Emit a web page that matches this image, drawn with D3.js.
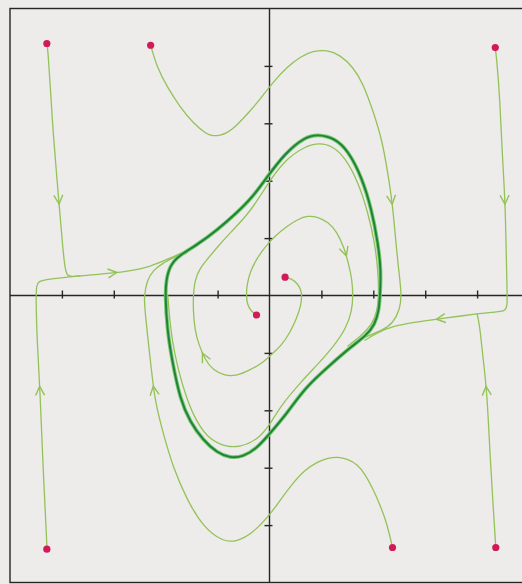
<!DOCTYPE html>
<html>
<head>
<meta charset="utf-8">
<script src="https://cdn.jsdelivr.net/npm/d3@7"></script>
<style>
  html, body { margin: 0; padding: 0; background: #edecea; overflow: hidden; }
  svg { display: block; }
</style>
</head>
<body>
<svg id="chart" width="522" height="584"></svg>
<script>
// Phase plane: window and tick positions
const xDomain = [-5, 5];
const yDomain = [-5, 5];
const xTicks = [-4, -3, -2, -1, 1, 2, 3, 4];
const yTicks = [-4, -3, -2, -1, 1, 2, 3, 4];

// Initial states of the plotted trajectories
const startPoints = [
  [-4.29, 4.39], [-2.29, 4.36], [4.35, 4.32], [0.30, 0.32],
  [-0.25, -0.34], [-4.29, -4.42], [2.37, -4.39], [4.36, -4.39]
];

// Attracting closed orbit
const limitCycle = [
  [2.13, 0.01], [2.11, -0.25], [2.03, -0.51], [1.86, -0.70], [1.55, -0.91],
  [1.17, -1.21], [0.68, -1.61], [0.34, -2.05], [0.01, -2.40], [-0.24, -2.66],
  [-0.51, -2.81], [-0.76, -2.83], [-1.01, -2.74], [-1.28, -2.52], [-1.53, -2.20],
  [-1.72, -1.82], [-1.88, -1.12], [-1.97, -0.60], [-2.01, 0.01], [-1.99, 0.27],
  [-1.92, 0.53], [-1.72, 0.71], [-1.40, 0.88], [-1.01, 1.14], [-0.63, 1.44],
  [-0.32, 1.72], [-0.05, 2.06], [0.30, 2.48], [0.68, 2.76], [0.93, 2.81],
  [1.26, 2.74], [1.51, 2.53], [1.78, 2.06], [1.97, 1.49], [2.09, 0.91], [2.15, 0.44]
];

// Trajectories approaching the orbit from outside
const trajTopLeft = [
  [-4.29, 4.39], [-4.27, 4.28], [-4.22, 3.60], [-4.17, 2.83], [-4.06, 1.66],
  [-3.98, 0.79], [-3.94, 0.48], [-3.90, 0.34], [-3.81, 0.33], [-3.65, 0.34],
  [-3.02, 0.39], [-2.69, 0.43], [-2.30, 0.50], [-1.92, 0.65], [-1.67, 0.75],
  [-1.40, 0.89]
];
const trajBottomLeft = [
  [-4.29, -4.42], [-4.29, -4.31], [-4.36, -3.09], [-4.42, -1.65], [-4.48, -0.78],
  [-4.50, -0.03], [-4.49, 0.17], [-4.45, 0.25], [-4.30, 0.28], [-4.10, 0.30],
  [-3.90, 0.32], [-3.65, 0.34]
];
const trajTop = [
  [-2.29, 4.36], [-2.17, 3.98], [-1.97, 3.63], [-1.72, 3.28], [-1.47, 3.00],
  [-1.20, 2.80], [-1.09, 2.78], [-0.95, 2.79], [-0.82, 2.83], [-0.66, 2.94],
  [-0.51, 3.08], [-0.38, 3.21], [-0.18, 3.42], [0.07, 3.72], [0.34, 3.98],
  [0.59, 4.16], [0.84, 4.26], [1.11, 4.28], [1.36, 4.19], [1.61, 3.98],
  [1.80, 3.70], [1.99, 3.23], [2.17, 2.71], [2.28, 2.13], [2.36, 1.66],
  [2.42, 1.09], [2.48, 0.50], [2.55, 0.01], [2.51, -0.25], [2.38, -0.48],
  [2.19, -0.60], [1.86, -0.72]
];
const trajTopRight = [
  [4.35, 4.32], [4.38, 4.10], [4.44, 3.41], [4.48, 2.53], [4.54, 1.66],
  [4.56, 0.79], [4.58, 0.01], [4.58, -0.17], [4.55, -0.26], [4.45, -0.28],
  [4.31, -0.29], [4.00, -0.32], [3.67, -0.36], [3.23, -0.41], [2.84, -0.46],
  [2.38, -0.53], [2.07, -0.65], [1.84, -0.78]
];
const trajBottomRight = [
  [4.36, -4.39], [4.31, -3.68], [4.25, -2.81], [4.19, -1.65], [4.11, -1.07],
  [4.06, -0.60], [4.02, -0.40], [4.00, -0.32]
];
const trajBottom = [
  [2.37, -4.39], [2.26, -3.96], [2.13, -3.65], [1.99, -3.36], [1.84, -3.11],
  [1.69, -2.94], [1.51, -2.85], [1.32, -2.81], [1.13, -2.83], [0.92, -2.90],
  [0.68, -3.04], [0.45, -3.27], [0.24, -3.52], [0.01, -3.82], [-0.32, -4.14],
  [-0.63, -4.29], [-0.90, -4.29], [-1.28, -4.03], [-1.59, -3.56], [-1.86, -2.99],
  [-2.05, -2.40], [-2.21, -1.83], [-2.28, -1.25], [-2.34, -0.78], [-2.40, -0.25],
  [-2.42, -0.03], [-2.36, 0.27], [-2.24, 0.44], [-2.05, 0.57], [-1.82, 0.67],
  [-1.63, 0.76]
];

// Trajectories spiralling out from near the origin
const spiralA = [
  [0.30, 0.32], [0.43, 0.29], [0.55, 0.20], [0.63, 0.06], [0.61, -0.17],
  [0.51, -0.43], [0.39, -0.65], [0.24, -0.86], [0.07, -1.00], [-0.14, -1.18],
  [-0.38, -1.30], [-0.63, -1.40], [-0.86, -1.40], [-1.09, -1.30], [-1.24, -1.12],
  [-1.36, -0.86], [-1.44, -0.60], [-1.47, -0.25], [-1.47, -0.03], [-1.44, 0.27],
  [-1.34, 0.48], [-1.18, 0.65], [-1.01, 0.84], [-0.76, 1.09], [-0.43, 1.40],
  [-0.20, 1.70], [0.02, 2.02], [0.30, 2.36], [0.68, 2.60], [0.97, 2.66],
  [1.22, 2.60], [1.45, 2.41], [1.71, 1.98], [1.90, 1.44], [2.03, 0.91],
  [2.09, 0.44], [2.11, 0.01], [2.07, -0.30], [1.97, -0.51], [1.78, -0.69],
  [1.51, -0.88]
];
const spiralB = [
  [-0.25, -0.34], [-0.36, -0.27], [-0.43, -0.15], [-0.45, 0.01], [-0.43, 0.22],
  [-0.36, 0.44], [-0.24, 0.65], [-0.09, 0.84], [0.11, 1.04], [0.34, 1.21],
  [0.55, 1.33], [0.74, 1.39], [0.93, 1.37], [1.13, 1.28], [1.30, 1.11],
  [1.44, 0.83], [1.53, 0.53], [1.59, 0.27], [1.61, 0.01], [1.59, -0.27],
  [1.47, -0.58], [1.24, -0.88], [0.97, -1.16], [0.59, -1.52], [0.20, -1.94],
  [0.01, -2.25], [-0.24, -2.52], [-0.57, -2.64], [-0.82, -2.64], [-1.15, -2.52],
  [-1.40, -2.21], [-1.59, -1.82], [-1.76, -1.30], [-1.88, -0.78], [-1.94, -0.25],
  [-1.96, 0.01]
];

// Direction arrows: which trajectory, and where along it
const arrowMarks = [
  { on: "trajTopLeft", at: [-4.06, 1.66] },
  { on: "trajTopLeft", at: [-3.02, 0.39] },
  { on: "trajBottomLeft", at: [-4.42, -1.65] },
  { on: "trajTop", at: [2.36, 1.66] },
  { on: "trajTopRight", at: [4.54, 1.66] },
  { on: "trajTopRight", at: [3.29, -0.39] },
  { on: "trajBottomRight", at: [4.19, -1.65] },
  { on: "trajBottom", at: [-2.23, -1.65] },
  { on: "spiralA", at: [-1.20, -1.04] },
  { on: "spiralB", at: [1.45, 0.75] }
];

const trajectories = [
  { id: "trajTopLeft", pts: trajTopLeft },
  { id: "trajBottomLeft", pts: trajBottomLeft },
  { id: "trajTop", pts: trajTop },
  { id: "trajTopRight", pts: trajTopRight },
  { id: "trajBottomRight", pts: trajBottomRight },
  { id: "trajBottom", pts: trajBottom },
  { id: "spiralA", pts: spiralA },
  { id: "spiralB", pts: spiralB }
];

const W = 522, H = 584;
const svg = d3.select("#chart");

const x = d3.scaleLinear().domain(xDomain).range([10, 529]);
const y = d3.scaleLinear().domain(yDomain).range([582.5, 8.5]);

const axisColor = "#262626";
const lightGreen = "#93c258";
const darkGreen = "#1f8236";

svg.append("rect").attr("width", W).attr("height", H).attr("fill", "#edecea");

// frame
svg.append("rect")
  .attr("x", x(xDomain[0])).attr("y", y(yDomain[1]))
  .attr("width", x(xDomain[1]) - x(xDomain[0]))
  .attr("height", y(yDomain[0]) - y(yDomain[1]))
  .attr("fill", "none").attr("stroke", axisColor).attr("stroke-width", 1.4);

// axes through the origin
svg.append("line")
  .attr("x1", x(xDomain[0])).attr("x2", x(xDomain[1]))
  .attr("y1", y(0)).attr("y2", y(0))
  .attr("stroke", axisColor).attr("stroke-width", 1.4);
svg.append("line")
  .attr("x1", x(0)).attr("x2", x(0))
  .attr("y1", y(yDomain[1])).attr("y2", y(yDomain[0]))
  .attr("stroke", axisColor).attr("stroke-width", 1.4);

const gx = svg.append("g").attr("transform", `translate(0,${y(0)})`)
  .call(d3.axisBottom(x).tickValues(xTicks).tickSize(8).tickFormat(""));
gx.select(".domain").remove();
gx.selectAll(".tick line").attr("y1", -5).attr("y2", 3)
  .attr("stroke", axisColor).attr("stroke-width", 1.4);

const gy = svg.append("g").attr("transform", `translate(${x(0)},0)`)
  .call(d3.axisLeft(y).tickValues(yTicks).tickSize(8).tickFormat(""));
gy.select(".domain").remove();
gy.selectAll(".tick line").attr("x1", -5).attr("x2", 3)
  .attr("stroke", axisColor).attr("stroke-width", 1.4);

const line = d3.line()
  .x(d => x(d[0])).y(d => y(d[1]))
  .curve(d3.curveBasis);
const closedLine = d3.line()
  .x(d => x(d[0])).y(d => y(d[1]))
  .curve(d3.curveBasisClosed);

// trajectories
const paths = {};
trajectories.forEach(t => {
  paths[t.id] = svg.append("path")
    .attr("d", line(t.pts))
    .attr("fill", "none")
    .attr("stroke", lightGreen)
    .attr("stroke-width", 1.3)
    .attr("stroke-linejoin", "round")
    .attr("stroke-linecap", "round");
});

// limit cycle: pale halo with a dark core
svg.append("path").attr("d", closedLine(limitCycle))
  .attr("fill", "none").attr("stroke", "#74c86e").attr("stroke-width", 3.8);
svg.append("path").attr("d", closedLine(limitCycle))
  .attr("fill", "none").attr("stroke", darkGreen).attr("stroke-width", 1.9);

// chevron arrowheads oriented along each trajectory
arrowMarks.forEach(a => {
  const node = paths[a.on].node();
  const L = node.getTotalLength();
  const tx = x(a.at[0]), ty = y(a.at[1]);
  let best = 0, bestD = Infinity;
  for (let l = 0; l <= L; l += 0.5) {
    const p = node.getPointAtLength(l);
    const d = (p.x - tx) ** 2 + (p.y - ty) ** 2;
    if (d < bestD) { bestD = d; best = l; }
  }
  const p0 = node.getPointAtLength(Math.max(0, best - 3));
  const p1 = node.getPointAtLength(Math.min(L, best + 3));
  const pc = node.getPointAtLength(best);
  let dx = p1.x - p0.x, dy = p1.y - p0.y;
  const n = Math.hypot(dx, dy) || 1;
  dx /= n; dy /= n;
  const tip = [pc.x + dx * 4, pc.y + dy * 4];
  const back = 9, half = 4.5;
  const a1 = [tip[0] - dx * back - dy * half, tip[1] - dy * back + dx * half];
  const a2 = [tip[0] - dx * back + dy * half, tip[1] - dy * back - dx * half];
  svg.append("path")
    .attr("d", `M${a1[0]},${a1[1]}L${tip[0]},${tip[1]}L${a2[0]},${a2[1]}`)
    .attr("fill", "none").attr("stroke", lightGreen).attr("stroke-width", 1.4)
    .attr("stroke-linejoin", "miter");
});

// starting points
svg.append("g").selectAll("circle").data(startPoints).join("circle")
  .attr("cx", d => x(d[0])).attr("cy", d => y(d[1])).attr("r", 3.6)
  .attr("fill", "#d1195c");
</script>
</body>
</html>
